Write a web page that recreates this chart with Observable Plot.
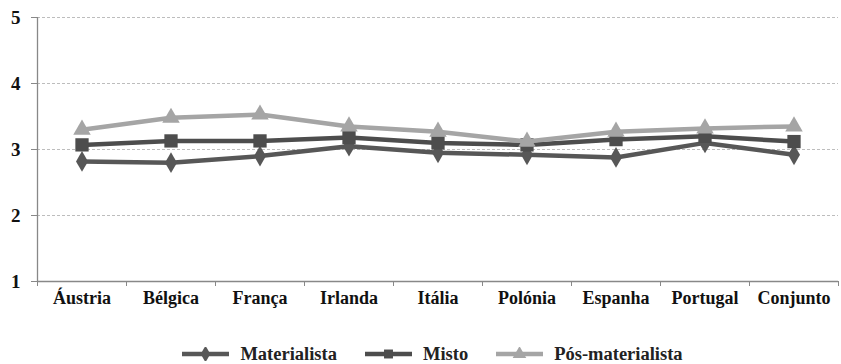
<!DOCTYPE html>
<html>
<head>
<meta charset="utf-8">
<script src="https://cdn.jsdelivr.net/npm/d3@7"></script>
<script src="https://cdn.jsdelivr.net/npm/@observablehq/plot@0.6"></script>
<style>
  html, body { margin: 0; padding: 0; background: #fff; }
  body { width: 841px; height: 364px; overflow: hidden; }
</style>
</head>
<body>
<div id="chart"></div>
<div id="legend"></div>
<script>
const categories = ["Áustria", "Bélgica", "França", "Irlanda", "Itália", "Polónia", "Espanha", "Portugal", "Conjunto"];
const seriesNames = ["Materialista", "Misto", "Pós-materialista"];
const materialista = [2.82, 2.80, 2.90, 3.05, 2.95, 2.92, 2.88, 3.10, 2.92];
const misto = [3.07, 3.13, 3.13, 3.18, 3.10, 3.07, 3.15, 3.20, 3.12];
const posMaterialista = [3.30, 3.48, 3.53, 3.35, 3.27, 3.12, 3.27, 3.32, 3.35];
const yTicks = [1, 2, 3, 4, 5];

const colors = {"Materialista": "#575757", "Misto": "#4d4d4d", "Pós-materialista": "#a5a5a5"};
const symbols = {"Materialista": "diamond", "Misto": "square", "Pós-materialista": "triangle"};
const sizes = {"Materialista": 6.3, "Misto": 7.5, "Pós-materialista": 6.5};

const seriesValues = [materialista, misto, posMaterialista];
const data = [];
seriesNames.forEach((s, si) => {
  categories.forEach((c, i) => data.push({series: s, cat: c, idx: i + 0.5, value: seriesValues[si][i]}));
});
const bounds = d3.range(0, categories.length + 1);
const centers = categories.map((c, i) => i + 0.5);
const serif = "'Liberation Serif', 'Times New Roman', serif";

const marks = [
  Plot.ruleY(yTicks.filter(d => d > 1), {stroke: "#bdbdbd", strokeWidth: 1, strokeDasharray: "3,2"}),
  Plot.axisY({ticks: yTicks, tickSize: 6, tickPadding: 11, label: null, tickFormat: d => d, fontSize: 19, fontWeight: "bold", stroke: "#888", fill: "#111"}),
  Plot.axisX({ticks: bounds, tickSize: 5, label: null, tickFormat: () => "", stroke: "#888"}),
  Plot.axisX({ticks: centers, tickSize: 0, tickPadding: 10, label: null, tickFormat: (d) => categories[Math.floor(d)], fontSize: 18, fontWeight: "bold", fill: "#111"}),
  Plot.ruleX([0], {stroke: "#888", strokeWidth: 1.3}),
  Plot.ruleY([1], {stroke: "#888", strokeWidth: 1.3})
];
seriesNames.forEach(s => {
  const d = data.filter(r => r.series === s);
  marks.push(Plot.line(d, {x: "idx", y: "value", stroke: colors[s], strokeWidth: 4.5}));
  marks.push(Plot.dot(d, {x: "idx", y: "value", symbol: () => symbols[s], fill: colors[s], r: sizes[s]}));
});

const chart = Plot.plot({
  width: 841,
  height: 322,
  marginLeft: 37,
  marginRight: 3,
  marginTop: 17,
  marginBottom: 41,
  x: {type: "linear", domain: [0, categories.length], label: null},
  y: {domain: [1, 5], label: null},
  style: {background: "#fff"},
  marks
});
d3.select(chart).selectAll("text").style("font-family", serif).style("font-weight", "bold");
document.getElementById("chart").appendChild(chart);

const legend = document.getElementById("legend");
legend.setAttribute("style", `display:flex;justify-content:center;align-items:center;height:34px;margin-top:15px;margin-left:24px;font-family:${serif};font-weight:bold;font-size:18.5px;color:#222;`);
seriesNames.forEach(s => {
  const item = document.createElement("div");
  item.setAttribute("style", `display:flex;align-items:center;margin:0 14px;font-family:${serif};font-weight:bold;`);
  const sym = d3.symbol().type({diamond: d3.symbolDiamond, square: d3.symbolSquare, triangle: d3.symbolTriangle}[symbols[s]]).size(80)();
  item.innerHTML = `<svg width="47" height="14" style="margin-right:11px"><line x1="0" x2="47" y1="7" y2="7" stroke="${colors[s]}" stroke-width="4.5"/><path transform="translate(23.5,7)" d="${sym}" fill="${colors[s]}"/></svg><span style="font-family:${serif};font-weight:bold">${s}</span>`;
  legend.appendChild(item);
});
</script>
</body>
</html>
